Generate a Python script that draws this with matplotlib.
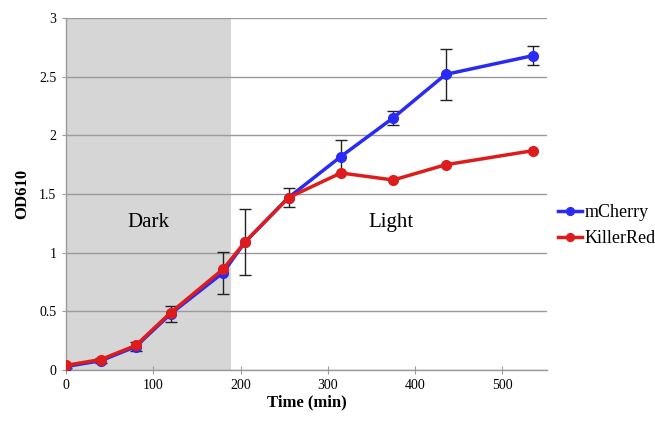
import matplotlib
matplotlib.use("Agg")
import matplotlib.pyplot as plt

time = [0, 40, 80, 120, 180, 205, 255, 315, 375, 435, 535]
mcherry = [0.03, 0.08, 0.20, 0.48, 0.83, 1.09, 1.47, 1.82, 2.15, 2.52, 2.68]
mcherry_err = [0.01, 0.02, 0.04, 0.07, 0.18, 0.28, 0.08, 0.14, 0.06, 0.22, 0.08]
killerred = [0.04, 0.09, 0.21, 0.49, 0.86, 1.09, 1.47, 1.68, 1.62, 1.75, 1.87]
dark_end = 189
series_names = ["mCherry", "KillerRed"]
region_labels = ["Dark", "Light"]

plt.rcParams['font.family'] = ['Liberation Serif', 'DejaVu Serif']

fig = plt.figure(figsize=(6.55, 4.21), dpi=100)
ax = fig.add_axes([0.1008, 0.121, 0.734, 0.836])

ax.axvspan(0, dark_end, color='#d6d6d6', zorder=0, lw=0)
ax.set_xlim(0, 551)
ax.set_ylim(0, 3)
ax.set_yticks([0, 0.5, 1, 1.5, 2, 2.5, 3])
ax.set_yticklabels(['0', '0.5', '1', '1.5', '2', '2.5', '3'])
ax.set_xticks([0, 100, 200, 300, 400, 500])
ax.yaxis.grid(True, color='#9a9a9a', lw=1, zorder=1)
ax.set_axisbelow(True)

for s in ['top', 'right']:
    ax.spines[s].set_visible(False)
for s in ['left', 'bottom']:
    ax.spines[s].set_color('#9a9a9a')
    ax.spines[s].set_linewidth(1)
ax.tick_params(axis='y', length=3, color='#9a9a9a', labelsize=10, pad=4)
ax.tick_params(axis='x', length=6, direction='inout', color='#9a9a9a', labelsize=10)

eb = ax.errorbar(time, mcherry, yerr=mcherry_err, color='#2a2af5', lw=2.5, marker='o',
                 ms=7, ecolor='#222222', elinewidth=1, capsize=4, capthick=1,
                 zorder=3)
kr, = ax.plot(time, killerred, color='#dd1c1c', lw=2.5, marker='o', ms=7, zorder=4)

ax.text(94, 1.26, region_labels[0], fontsize=15, ha='center', va='center')
ax.text(372, 1.26, region_labels[1], fontsize=15, ha='center', va='center')

ax.set_xlabel('Time (min)', fontsize=12, fontweight='bold', labelpad=2)
ax.set_ylabel('OD610', fontsize=12, fontweight='bold', labelpad=6)

leg = ax.legend([eb.lines[0], kr], series_names, loc='center left',
                bbox_to_anchor=(0.99, 0.41), frameon=False,
                fontsize=13, handlelength=1.3, handletextpad=0.15, labelspacing=0.5,
                markerscale=0.8)

fig.savefig('out.png', dpi=100)
